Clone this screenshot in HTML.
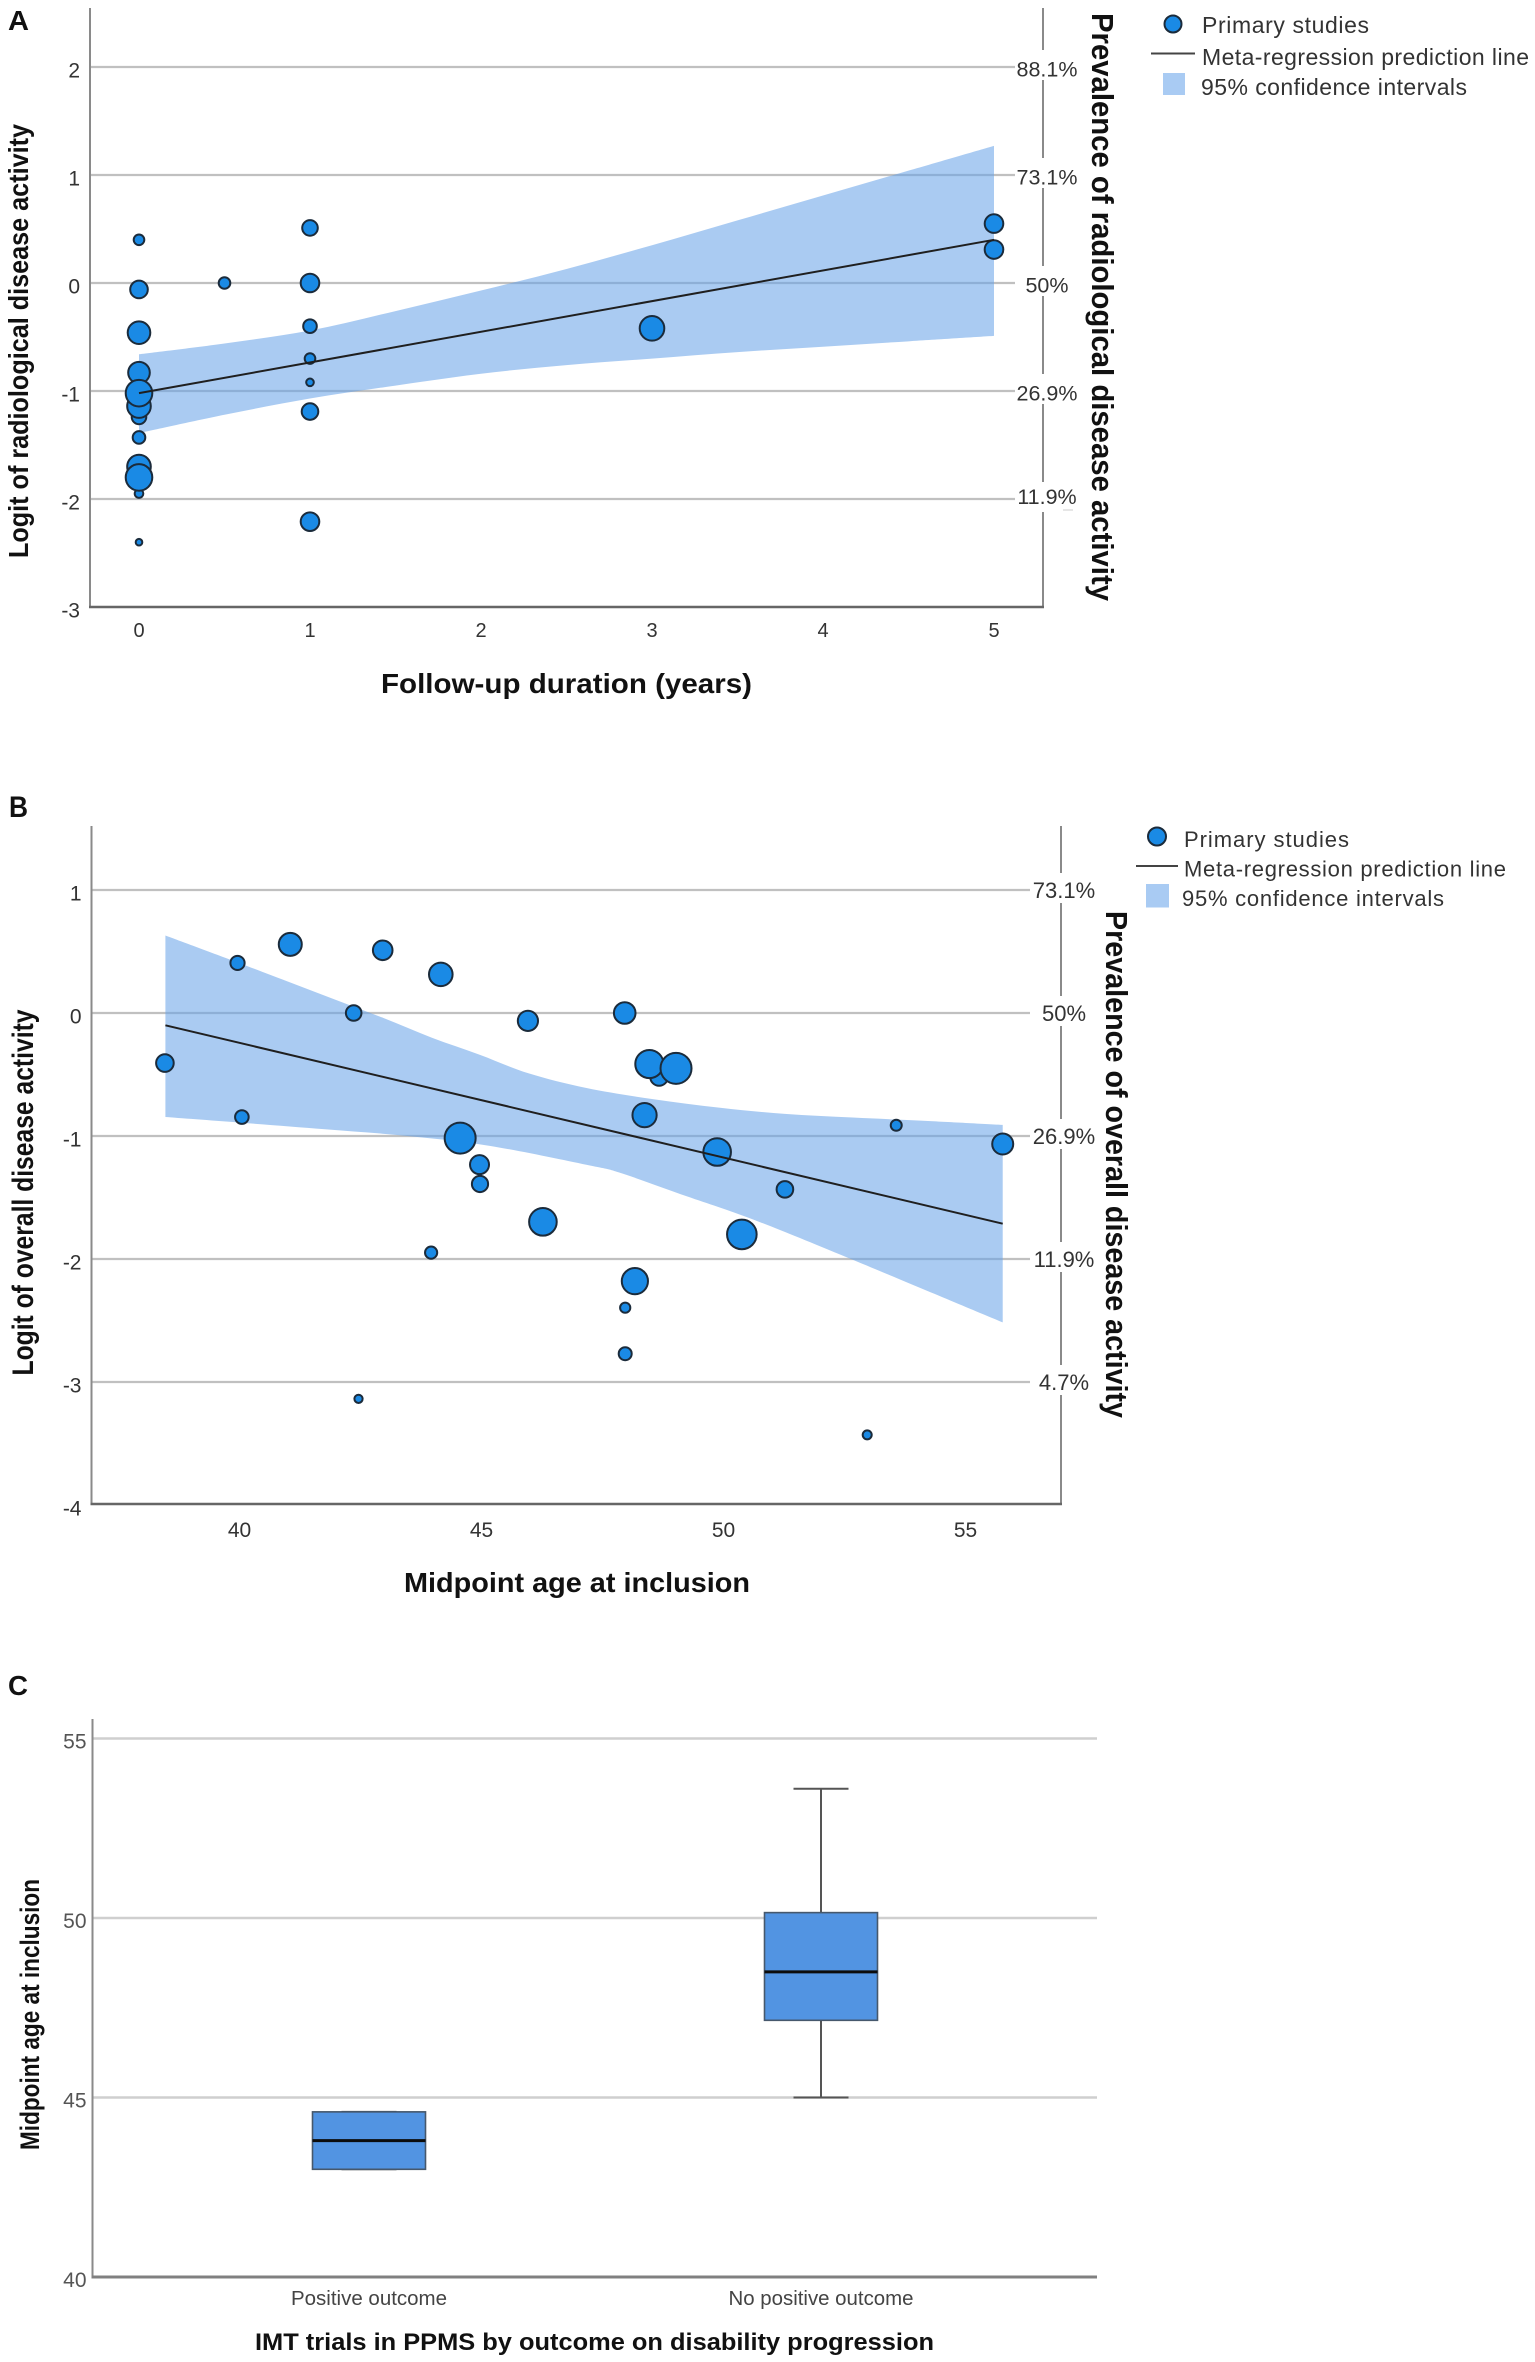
<!DOCTYPE html>
<html lang="en">
<head>
<meta charset="utf-8">
<title>Disease activity meta-regression charts</title>
<style>
  html, body { margin: 0; padding: 0; background: #ffffff; }
  body { width: 1535px; height: 2362px; overflow: hidden; }
  svg { display: block; font-family: "Liberation Sans", Arial, sans-serif; }
  .title { font-weight: bold; fill: #111; }
  .tick { fill: #333; }
</style>
</head>
<body>
<svg id="figure" xmlns="http://www.w3.org/2000/svg" width="1535" height="2362" viewBox="0 0 1535 2362">
  <rect x="0" y="0" width="1535" height="2362" fill="#ffffff"/>

  <g id="panelA"></g>
  <g id="panelB"></g>
  <g id="panelC"></g>

  <!-- Panel letters -->
  <text class="title" x="8" y="30" font-size="28" textLength="21" lengthAdjust="spacingAndGlyphs">A</text>
  <text class="title" x="9" y="817" font-size="30" textLength="19" lengthAdjust="spacingAndGlyphs">B</text>
  <text class="title" x="8" y="1695" font-size="28" textLength="20" lengthAdjust="spacingAndGlyphs">C</text>

  <!-- Panel A titles -->
  <text class="title" transform="translate(28,558) rotate(-90)" font-size="28" textLength="434" lengthAdjust="spacingAndGlyphs">Logit of radiological disease activity</text>
  <text class="title" transform="translate(1092,13) rotate(90)" font-size="31" textLength="588" lengthAdjust="spacingAndGlyphs">Prevalence of radiological disease activity</text>
  <text class="title" x="381" y="693" font-size="28" textLength="371" lengthAdjust="spacingAndGlyphs">Follow-up duration (years)</text>

  <!-- Panel A legend -->
  <g>
    <circle cx="1173" cy="24" r="8.5" fill="#1a8ae5" stroke="#1b2b3b" stroke-width="2"/>
    <text class="tick" x="1202" y="33" font-size="23" textLength="167" lengthAdjust="spacing">Primary studies</text>
    <line x1="1151" y1="53.5" x2="1195" y2="53.5" stroke="#444" stroke-width="2"/>
    <text class="tick" x="1202" y="65" font-size="23" textLength="327" lengthAdjust="spacing">Meta-regression prediction line</text>
    <rect x="1163" y="73" width="22" height="22" fill="#a9cbf3"/>
    <text class="tick" x="1201" y="95" font-size="23" textLength="266" lengthAdjust="spacing">95% confidence intervals</text>
  </g>
  <line x1="1063" y1="510" x2="1073" y2="510" stroke="#dddddd" stroke-width="1.5"/>

  <!-- Panel B titles -->
  <text class="title" transform="translate(33,1375.5) rotate(-90)" font-size="30" textLength="366" lengthAdjust="spacingAndGlyphs">Logit of overall disease activity</text>
  <text class="title" transform="translate(1106,911) rotate(90)" font-size="31" textLength="507" lengthAdjust="spacingAndGlyphs">Prevalence of overall disease activity</text>
  <text class="title" x="404" y="1592" font-size="28" textLength="346" lengthAdjust="spacingAndGlyphs">Midpoint age at inclusion</text>

  <!-- Panel B legend -->
  <g>
    <circle cx="1157" cy="836.5" r="9" fill="#1a8ae5" stroke="#1b2b3b" stroke-width="2"/>
    <text class="tick" x="1184" y="847" font-size="22" textLength="165" lengthAdjust="spacing">Primary studies</text>
    <line x1="1136" y1="866" x2="1178" y2="866" stroke="#444" stroke-width="2"/>
    <text class="tick" x="1184" y="876.5" font-size="22" textLength="322" lengthAdjust="spacing">Meta-regression prediction line</text>
    <rect x="1146" y="884" width="23" height="23.5" fill="#a9cbf3"/>
    <text class="tick" x="1182" y="906" font-size="22" textLength="262" lengthAdjust="spacing">95% confidence intervals</text>
  </g>

  <!-- Panel C titles -->
  <text class="title" transform="translate(39,2150) rotate(-90)" font-size="27" textLength="271" lengthAdjust="spacingAndGlyphs">Midpoint age at inclusion</text>
  <text class="title" x="255" y="2350" font-size="24" textLength="679" lengthAdjust="spacingAndGlyphs">IMT trials in PPMS by outcome on disability progression</text>
</svg>

<script>
// ---------- Panel A data ----------
const followUpYears = [0, 0, 0, 0, 0, 0, 0, 0, 0, 0, 0, 0, 0.5, 1, 1, 1, 1, 1, 1, 1, 3, 5, 5];
const logitRadiological = [0.40, -0.06, -0.46, -0.83, -1.24, -1.14, -1.02, -1.43, -1.95, -1.70, -1.80, -2.40, 0, 0.51, 0, -0.40, -0.70, -0.92, -1.19, -2.21, -0.42, 0.55, 0.31];
const studyWeightA = [5.5, 9, 11.5, 11, 7.5, 12, 13.5, 6.5, 4.5, 12, 13.5, 3.5, 6, 8, 9.5, 7, 5.5, 4, 8.5, 9.5, 12.5, 9.5, 9.5];
const bandXA = [0, 0.5, 1, 1.5, 2, 2.5, 3, 3.5, 4, 4.5, 5];
const bandUpperA = [-0.66, -0.56, -0.44, -0.26, -0.07, 0.13, 0.35, 0.58, 0.81, 1.04, 1.27];
const bandLowerA = [-1.39, -1.22, -1.07, -0.95, -0.84, -0.76, -0.70, -0.64, -0.59, -0.54, -0.49];
const lineXA = [0, 5];
const lineYA = [-1.02, 0.40];
const xTicksA = [0, 1, 2, 3, 4, 5];
const yTicksA = [2, 1, 0, -1, -2, -3];
const gridValuesA = [2, 1, 0, -1, -2];
const prevalenceLabelsA = ["88.1%", "73.1%", "50%", "26.9%", "11.9%"];

// ---------- Panel B data ----------
const midpointAge = [38.49, 39.99, 40.08, 41.08, 42.39, 42.49, 42.99, 43.99, 44.19, 44.59, 44.99, 45, 45.99, 46.3, 47.99, 48.7, 48.5, 49.05, 48.4, 49.9, 51.3, 50.41, 48.2, 48, 48, 53, 53.6, 55.8];
const logitOverall = [-0.407, 0.407, -0.846, 0.558, 0, -3.137, 0.51, -1.948, 0.314, -1.017, -1.233, -1.39, -0.064, -1.698, 0, -0.52, -0.415, -0.45, -0.83, -1.13, -1.434, -1.80, -2.18, -2.396, -2.77, -3.43, -0.913, -1.065];
const studyWeightB = [9, 7.3, 7, 11.7, 8, 4.3, 10, 6.3, 12, 15.7, 9.7, 8.3, 10.3, 14, 11, 9, 14.3, 15.7, 12.3, 14, 8.5, 15, 13.3, 5.3, 6.7, 4.7, 5.7, 10.7];
const bandUpperAgeB = [38.5, 40, 41, 42, 43, 44, 45, 46, 47.2, 48.57, 49.96, 51.3, 52.7, 54.1, 55.8];
const bandUpperB = [0.63, 0.41, 0.26, 0.11, -0.04, -0.20, -0.34, -0.49, -0.61, -0.70, -0.77, -0.82, -0.85, -0.875, -0.91];
const bandLowerAgeB = [38.5, 40, 41.8, 43.5, 45.2, 47.27, 47.9, 49.27, 50.65, 52.6, 55.8];
const bandLowerB = [-0.846, -0.89, -0.945, -1.0, -1.08, -1.24, -1.30, -1.49, -1.68, -1.99, -2.515];
const lineXB = [38.5, 55.8];
const lineYB = [-0.10, -1.713];
const xTicksB = [40, 45, 50, 55];
const yTicksB = [1, 0, -1, -2, -3, -4];
const gridValuesB = [1, 0, -1, -2, -3];
const prevalenceLabelsB = ["73.1%", "50%", "26.9%", "11.9%", "4.7%"];

// ---------- Panel C data ----------
const outcomeCategories = ["Positive outcome", "No positive outcome"];
const boxQ1 = [43, 47.15];
const boxMedian = [43.8, 48.5];
const boxQ3 = [44.6, 50.15];
const whiskerLow = [43, 45];
const whiskerHigh = [44.6, 53.6];
const yTicksC = [55, 50, 45, 40];
const gridValuesC = [55, 50, 45];

// ---------- Axis functions ----------
const xA = v => 139 + 171 * v;
const yA = v => 283 - 108 * v;
const xB = v => 238 + 48.4 * (v - 40);
const yB = v => 1013 - 123 * v;
const xC = i => 369 + 452 * i;
const yC = v => 2277 - 35.9 * (v - 40);
const radius = w => w;

const NS = "http://www.w3.org/2000/svg";
function mk(parent, tag, attrs, text) {
  const el = document.createElementNS(NS, tag);
  for (const k in attrs) el.setAttribute(k, attrs[k]);
  if (text !== undefined) el.textContent = text;
  parent.appendChild(el);
  return el;
}

// Catmull-Rom smoothing through screen points; returns path segments after the first point
function smoothSegments(pts) {
  let d = "";
  for (let i = 0; i < pts.length - 1; i++) {
    const p0 = pts[Math.max(i - 1, 0)], p1 = pts[i], p2 = pts[i + 1], p3 = pts[Math.min(i + 2, pts.length - 1)];
    const c1x = p1[0] + (p2[0] - p0[0]) / 6, c1y = p1[1] + (p2[1] - p0[1]) / 6;
    const c2x = p2[0] - (p3[0] - p1[0]) / 6, c2y = p2[1] - (p3[1] - p1[1]) / 6;
    d += " C" + c1x + " " + c1y + " " + c2x + " " + c2y + " " + p2[0] + " " + p2[1];
  }
  return d;
}

function drawScatterPanel(g, cfg) {
  // horizontal grid lines
  cfg.gridValues.forEach(function (v) {
    const el = mk(g, "line", { x1: cfg.left, x2: cfg.gridEnd, y1: cfg.y(v), y2: cfg.y(v), stroke: "#c0c0c0", "stroke-width": 2.2 });
    
    
  });

  // axes
  const leftAxis = mk(g, "line", { x1: cfg.left, x2: cfg.left, y1: cfg.top, y2: cfg.bottom, stroke: "#8a8a8a", "stroke-width": 2 });
  
  
  const rightAxis = mk(g, "line", { x1: cfg.right, x2: cfg.right, y1: cfg.top, y2: cfg.bottom, stroke: "#8a8a8a", "stroke-width": 2 });
  
  
  const bottomAxis = mk(g, "line", { x1: cfg.left - 1, x2: cfg.right + 1, y1: cfg.bottom, y2: cfg.bottom, stroke: "#666", "stroke-width": 2.5 });
  
  

  // secondary prevalence labels, breaking the right axis
  cfg.prevalence.forEach(function (label, i) {
    const gy = cfg.y(cfg.gridValues[i]);
    const mask = mk(g, "rect", { x: cfg.right - 8, y: gy - 17, width: 16, height: 30, fill: "#ffffff" });
    
    
    const t = mk(g, "text", { x: cfg.right + cfg.labelShift, y: gy + cfg.labelDy(label), "text-anchor": "middle", "font-size": cfg.labelSize, "class": "tick" }, label);
    
    
  });

  // tick labels
  cfg.xTicks.forEach(function (v) {
    const t = mk(g, "text", { x: cfg.x(v) + cfg.xTickShift, y: cfg.xTickY, "text-anchor": "middle", "font-size": cfg.xTickSize, "class": "tick" }, v);
    
    
  });
  cfg.yTicks.forEach(function (v) {
    const t = mk(g, "text", { x: cfg.left - 10, y: cfg.y(v) + 10.5, "text-anchor": "end", "font-size": 21, "class": "tick" }, v);
    
    
  });

  // confidence band (smooth upper and lower edges)
  const top = cfg.bandUpperX.map((v, i) => [cfg.x(v), cfg.y(cfg.bandUpper[i])]);
  const bot = cfg.bandLowerX.map((v, i) => [cfg.x(v), cfg.y(cfg.bandLower[i])]).reverse();
  const bandPath = "M" + top[0][0] + " " + top[0][1] + smoothSegments(top) +
    " L" + bot[0][0] + " " + bot[0][1] + smoothSegments(bot) + " Z";
  const band = mk(g, "path", { d: bandPath, fill: "rgb(100,160,232)", "fill-opacity": 0.55 });
  
  

  // study points
  cfg.px.forEach(function (v, i) {
    const c = mk(g, "circle", { cx: cfg.x(v), cy: cfg.y(cfg.py[i]), r: radius(cfg.w[i]) - 0.2, fill: "#1a8ae5", stroke: "#1b2b3b", "stroke-width": 2 });
    
    
  });

  // prediction line
  const pred = mk(g, "polyline", { points: cfg.lineX.map((v, i) => cfg.x(v) + "," + cfg.y(cfg.lineY[i])).join(" "), fill: "none", stroke: "#1f1f1f", "stroke-width": 2 });
  
  
}

drawScatterPanel(document.getElementById("panelA"), {
  x: xA, y: yA, left: 90, right: 1043, top: 8, bottom: 607, gridEnd: 1015,
  gridValues: gridValuesA, prevalence: prevalenceLabelsA, labelShift: 4, labelSize: 21.5,
  labelDy: label => label === "11.9%" ? 5 : 9.5,
  xTicks: xTicksA, xTickShift: 0, yTicks: yTicksA, xTickY: 637, xTickSize: 20,
  bandUpperX: bandXA, bandUpper: bandUpperA, bandLowerX: bandXA, bandLower: bandLowerA,
  px: followUpYears, py: logitRadiological, w: studyWeightA,
  lineX: lineXA, lineY: lineYA
});

drawScatterPanel(document.getElementById("panelB"), {
  x: xB, y: yB, left: 91.5, right: 1061, top: 826, bottom: 1504, gridEnd: 1030,
  gridValues: gridValuesB, prevalence: prevalenceLabelsB, labelShift: 3, labelSize: 22,
  labelDy: label => 8,
  xTicks: xTicksB, xTickShift: 1.5, yTicks: yTicksB, xTickY: 1537, xTickSize: 21,
  bandUpperX: bandUpperAgeB, bandUpper: bandUpperB, bandLowerX: bandLowerAgeB, bandLower: bandLowerB,
  px: midpointAge, py: logitOverall, w: studyWeightB,
  lineX: lineXB, lineY: lineYB
});

// ---------- Panel C ----------
(function () {
  const g = document.getElementById("panelC");
  const left = 92.5, right = 1097, topY = 1719, boxW = 113, capW = 55;

  gridValuesC.forEach(function (v) {
    const el = mk(g, "line", { x1: left, x2: right, y1: yC(v), y2: yC(v), stroke: "#cfcfcf", "stroke-width": 2.5 });
    
    
  });

  const yAxis = mk(g, "line", { x1: left, x2: left, y1: topY, y2: yC(40), stroke: "#8a8a8a", "stroke-width": 2 });
  
  
  const xAxis = mk(g, "line", { x1: left - 1, x2: right, y1: yC(40), y2: yC(40), stroke: "#808080", "stroke-width": 3 });
  
  

  yTicksC.forEach(function (v) {
    const t = mk(g, "text", { x: 86.5, y: yC(v) + 10, "text-anchor": "end", "font-size": 21, fill: "#555" }, v);
    
    
  });

  outcomeCategories.forEach(function (name, i) {
    const cx = xC(i);

    const whisker = mk(g, "line", { x1: cx, x2: cx, y1: yC(whiskerHigh[i]), y2: yC(whiskerLow[i]), stroke: "#555", "stroke-width": 2 });
    
    

    [whiskerHigh[i], whiskerLow[i]].forEach(function (w) {
      const cap = mk(g, "line", { x1: cx - capW / 2, x2: cx + capW / 2, y1: yC(w), y2: yC(w), stroke: "#555", "stroke-width": 2 });
      
      
    });

    const box = mk(g, "rect", { x: cx - boxW / 2, y: yC(boxQ3[i]), width: boxW, height: yC(boxQ1[i]) - yC(boxQ3[i]), fill: "#5294e2", stroke: "#46586c", "stroke-width": 1.6 });
    
    

    const med = mk(g, "line", { x1: cx - boxW / 2, x2: cx + boxW / 2, y1: yC(boxMedian[i]), y2: yC(boxMedian[i]), stroke: "#0c0c0c", "stroke-width": 3 });
    
    

    const label = mk(g, "text", { x: cx, y: 2305, "text-anchor": "middle", "font-size": 20.5, fill: "#444", textLength: i === 0 ? 156 : 185, lengthAdjust: "spacingAndGlyphs" }, name);
    
    
  });
})();
</script>
</body>
</html>
